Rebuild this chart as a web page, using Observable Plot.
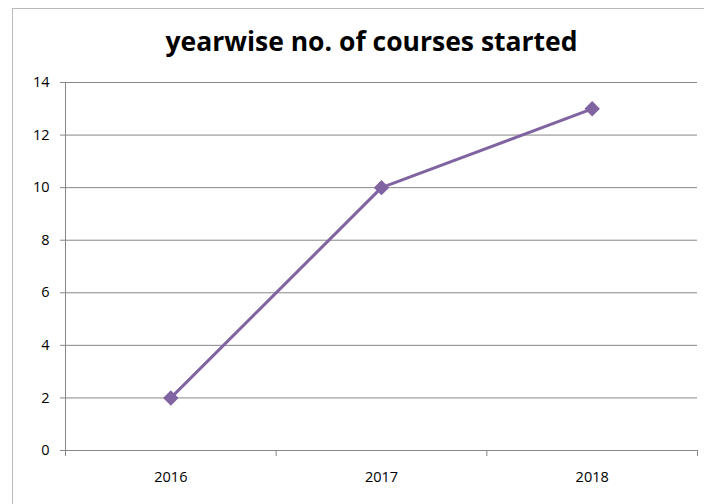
<!DOCTYPE html>
<html><head><meta charset="utf-8">
<script src="https://cdn.jsdelivr.net/npm/d3@7"></script>
<script src="https://cdn.jsdelivr.net/npm/@observablehq/plot@0.6"></script>
<style>
html,body{margin:0;padding:0;background:#fff;overflow:hidden}
#wrap{position:relative;width:704px;height:504px}
#frame{position:absolute;left:12px;top:8px;width:720px;height:520px;border:1px solid #b9b9b9;box-sizing:border-box}
#chart{position:absolute;left:0;top:0}
</style></head>
<body><div id="wrap"><div id="frame"></div><div id="chart"></div></div>
<script>
const title = "yearwise no. of courses started";
const years = ["2016", "2017", "2018"];
const courses = [2, 10, 13];
const yTicks = [0, 2, 4, 6, 8, 10, 12, 14];

const data = years.map((y, i) => ({i: i + 1, year: y, v: courses[i]}));
const bounds = d3.range(0.5, years.length + 1, 1);
const font = "'Open Sans', 'Noto Sans', sans-serif";

const plot = Plot.plot({
  width: 704, height: 504,
  marginLeft: 65, marginRight: 7, marginTop: 82, marginBottom: 54,
  style: {fontFamily: font, fontSize: "14.5px", color: "#000", background: "transparent"},
  x: {domain: [0.5, years.length + 0.5]},
  y: {domain: [0, 14]},
  marks: [
    Plot.gridY(yTicks, {stroke: "#868686", strokeOpacity: 1, strokeWidth: 1}),
    Plot.ruleX([0.5], {stroke: "#868686"}),
    Plot.ruleY([0], {stroke: "#868686"}),
    Plot.axisY({ticks: yTicks, tickSize: 5, tickPadding: 11, stroke: "#868686", label: null, fontSize: 14.5}),
    Plot.axisX({ticks: bounds, tickSize: 6, tickFormat: () => "", stroke: "#868686", label: null}),
    Plot.axisX({ticks: data.map(d => d.i), tickSize: 0, tickPadding: 21, tickFormat: i => years[i - 1], label: null, fontSize: 14.5}),
    Plot.line(data, {x: "i", y: "v", stroke: "#8064A2", strokeWidth: 3}),
    Plot.dot(data, {x: "i", y: "v", symbol: "diamond2", r: 6, fill: "#8064A2", stroke: "#8064A2"}),
    Plot.text([title], {frameAnchor: "top", dx: -10, dy: -40, fontSize: 26.5, fontWeight: "bold", fontFamily: font, fill: "#000", lineAnchor: "middle"})
  ]
});
document.getElementById("chart").appendChild(plot);
</script></body></html>
